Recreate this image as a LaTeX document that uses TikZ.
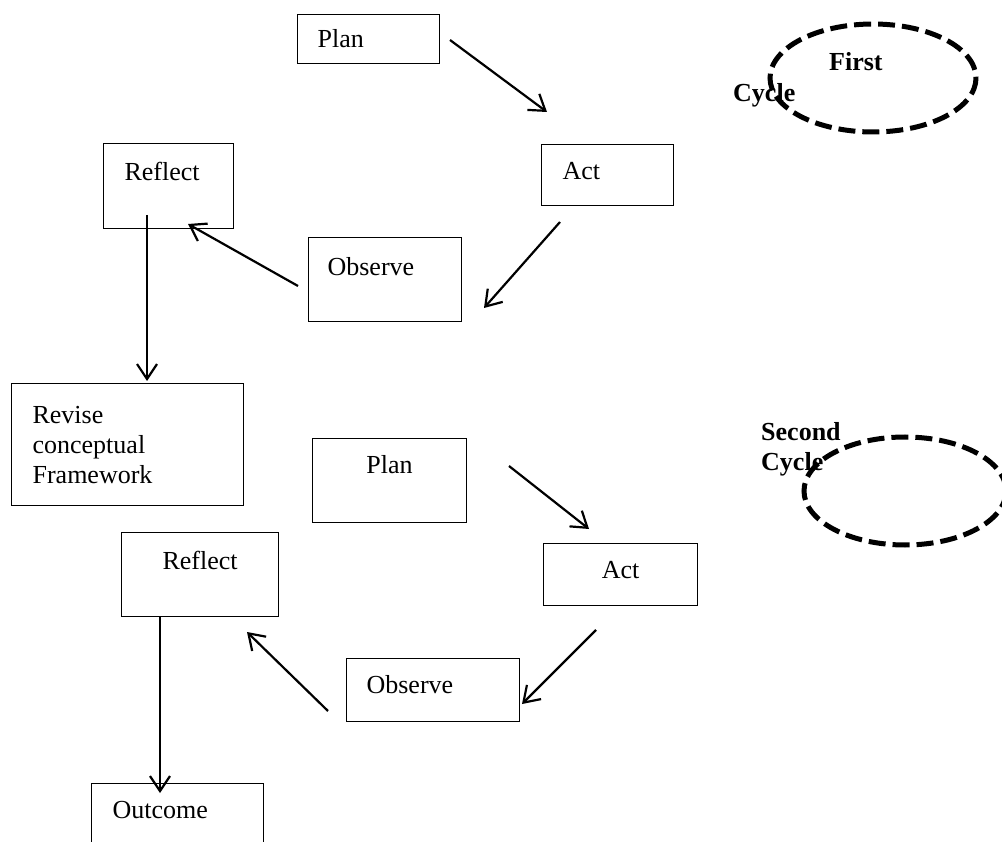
\documentclass[tikz,border=0pt]{standalone}
\usepackage{fontspec}
\setmainfont{Liberation Serif}
\usetikzlibrary{arrows.meta}

\tikzset{
  box/.style={draw, line width=1.2pt, anchor=north west, inner sep=0pt, align=left},
  flow/.style={line width=2.2pt, -{Straight Barb[length=15pt,width=20pt]}},
  ring/.style={line width=5pt, dash pattern=on 17pt off 7pt},
  tag/.style={font=\fontsize{26}{30}\selectfont\bfseries, anchor=base west, inner sep=0pt, align=left}
}

\begin{document}
\begin{tikzpicture}[x=1pt, y=-1pt, font=\fontsize{26}{30}\selectfont]
\path[use as bounding box, clip] (0,0) rectangle (1002,842);

% First cycle
\node[box, minimum width=142, minimum height=49, text width=102] (plan1) at (297,14) {Plan};
\node[box, minimum width=132, minimum height=61, text width=90, text depth=9pt] (act1) at (541,144) {Act};
\node[box, minimum width=153, minimum height=84, text width=115, text depth=26pt] (observe1) at (308,237) {Observe};
\node[box, minimum width=130, minimum height=85, text width=88, text depth=29pt] (reflect1) at (103,143) {Reflect};
\node[box, minimum width=232, minimum height=122, text width=190] (revise) at (11,383) {Revise\\conceptual\\Framework};

% Second cycle
\node[box, minimum width=154, minimum height=84, text depth=32pt] (plan2) at (312,438) {Plan};
\node[box, minimum width=154, minimum height=62, text depth=10pt] (act2) at (543,543) {Act};
\node[box, minimum width=173, minimum height=63, text width=133, text depth=11pt] (observe2) at (346,658) {Observe};
\node[box, minimum width=157, minimum height=84, text depth=28pt] (reflect2) at (121,532) {Reflect};
\node[box, minimum width=172, minimum height=80, text width=130, text depth=28pt] (outcome) at (91,783) {Outcome};

% Arrow ends
\coordinate (p1) at (450,40);   \coordinate (a1) at (547,112);
\coordinate (a1o) at (560,222); \coordinate (o1) at (484,308);
\coordinate (o1r) at (298,286); \coordinate (r1) at (188,224);
\coordinate (r1d) at (147,215); \coordinate (rv) at (147,381);
\coordinate (p2) at (509,466);  \coordinate (a2) at (589,529);
\coordinate (a2o) at (596,630); \coordinate (o2) at (522,704);
\coordinate (o2r) at (328,711); \coordinate (r2) at (247,632);
\coordinate (r2d) at (160,617); \coordinate (oc) at (160,793);

\draw[flow] (p1) -- (a1);
\draw[flow] (a1o) -- (o1);
\draw[flow] (o1r) -- (r1);
\draw[flow] (r1d) -- (rv);
\draw[flow] (p2) -- (a2);
\draw[flow] (a2o) -- (o2);
\draw[flow] (o2r) -- (r2);
\draw[flow] (r2d) -- (oc);

% Cycle markers
\node[tag] (first) at (829,71) {First};
\node[tag] (cyc1) at (733,102) {Cycle};
\draw[ring] (873,78) ellipse [x radius=103, y radius=54];

\node[tag] (second) at (761,470) {Second\\Cycle};
\draw[ring] (905,491) ellipse [x radius=101, y radius=54];
\end{tikzpicture}
\end{document}
